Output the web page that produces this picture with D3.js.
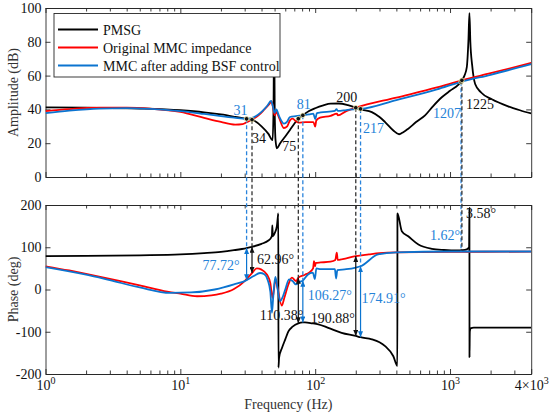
<!DOCTYPE html>
<html>
<head>
<meta charset="utf-8">
<script src="https://cdnjs.cloudflare.com/ajax/libs/d3/7.8.5/d3.min.js"></script>
<style>
  body { margin: 0; background: #fff; }
  svg { display: block; }
  svg text { font-family: "Times New Roman", "Liberation Serif", "DejaVu Serif", serif; }
</style>
</head>
<body>
<script>
// values, [frequency (Hz), value]
var pmsgAmp = [[1,41.2],[2,41],[5,40.5],[10,39.5],[15,38.3],[20,37],[25.5,35.6],[31,34.4],[34,33.9],
  [40,30],[45,25.5],[48.3,21.8],[49.1,40],[49.6,92],[50.1,40],[50.8,22],[52,17],[55,20],[60,24],
  [65,27.8],[70,31.5],[75,34.5],[81,36.5],[90,39],[100,40.7],[115,42.4],[130,43.4],[150,43.5],
  [175,42.5],[200,41],[217,40],[263,38.4],[300,35.5],[330,32.5],[380,27.5],[419,25.3],[450,26.5],
  [490,28.6],[560,32.5],[653,36.5],[750,42],[869,47.2],[1000,51],[1150,54.5],[1207,56.3],
  [1225,57.2],[1280,60],[1332,65],[1369,80.6],[1393,97],[1415,80],[1460,66],[1536,55],[1700,50],
  [2042,46],[2697,41.8],[3300,39.5],[4000,37.6]];
var mmcAmp = [[1,39],[1.5,40.2],[2.5,41],[4,41],[6,40.4],[10,38.5],[15,35],[20,32.6],[25.5,31],
  [29,31.3],[31,32.4],[34,33.9],[38,36.5],[42,40],[45.5,43],[47.5,44.7],[48.7,41],[50,36.5],
  [51.5,38.5],[54,35],[58.5,29],[62,30],[65,33.5],[68,34.5],[72,33],[75.4,32.2],[85,32.5],
  [97,32.5],[100,29.8],[102,33.5],[108.7,35.1],[130,36.2],[145,37.5],[147,36.5],[170,39],
  [200,41],[400,47],[800,53],[1225,57.2],[2000,61.4],[4000,67.5]];
var bsfAmp = [[1,37.8],[1.5,39.3],[2.5,40.5],[4,40.7],[6,40.3],[10,39],[15,37.3],[20,36],[25,35.1],
  [31,34.4],[35,35.3],[40,38.5],[44,42],[47.1,45],[48.5,42],[50,38],[51.5,40],[54,36],[58.8,31.6],
  [62,32.8],[65,35.5],[72,36],[81,36.5],[90,37],[97,37.5],[100,34.2],[103,37.8],[110,38.2],
  [140,39.2],[144,40.2],[147,39.1],[170,39.6],[200,40.2],[217,40.3],[400,45.5],[800,51.8],
  [1207,56.3],[2000,60.5],[4000,66.8]];

var pmsgPh = [[1,79],[2,79.5],[5,81],[10,83],[15,86],[20,89],[25,93],[31,98],[34,101],[40,108],
  [45,116],[47,122],[47.8,128],[48.1,152],[48.5,126],[50,133],[52,150],[53,175],[53.3,180],
  [53.4,-185],[54,-161],[56.8,-138],[60,-118],[63.3,-99],[68,-88],[75,-80],[81,-78],[84,-78],
  [95,-80],[105.6,-82.5],[125,-90.7],[157,-102.6],[200,-110],[217,-113],[263,-118],[300,-125],
  [330,-134],[380,-158],[407,-181],[407.5,180],[439,138],[490,126],[583,106.5],[733,96.3],
  [900,93.5],[1154,92.3],[1225,93],[1330,95],[1385,100],[1393,193],[1395,-160],[1402,-100],
  [1420,-92],[1500,-90],[4000,-90]];
var mmcPh = [[1,55],[1.5,45],[2,37],[3,25],[5,10],[8,-5],[10,-10],[13.3,-16],[17,-14],[20,-10],
  [25,1],[30,20],[34,39],[36.9,50],[40,47],[44,35],[46.5,15],[48.3,-20],[49.5,0],[50.8,25],
  [52.5,5],[56.5,-38],[59,-20],[63,10],[67.2,28],[72.2,20],[75,28],[84,35],[90,40],[96.5,50],
  [98,67],[99.8,55],[101,63],[110,64],[130,66],[141,70],[144.6,87],[147,70],[160,72],[200,79],
  [250,83],[300,86],[400,88],[1000,89],[4000,89.5]];
var bsfPh = [[1,53],[2,35],[3,22],[5,5],[8.4,-8],[12,-7],[18,0],[25,12],[31,22],[35,32],[39,39],
  [42,36],[44.5,22],[46.5,-5],[47.8,-55],[48.8,-20],[50.6,30],[52,12],[54.9,-28],[57,-20],
  [60,0],[64,24],[68,20],[72,12],[77,18],[81,21],[88,35],[96,40],[99.5,25],[102,50],[110,48],
  [140,48],[143,26],[146,46],[170,48],[200,52],[217,55],[293,83],[400,88],[1000,90],[4000,90]];

var seriesNames = ["PMSG", "Original MMC impedance", "MMC after adding BSF control"];
var seriesColors = ["#000000", "#ff0000", "#0b74d0"];

var ampTicks = [0, 20, 40, 60, 80, 100];
var phTicks = [-200, -100, 0, 100, 200];
var freqMajor = [1, 10, 100, 1000, 4000];

// marked crossing frequencies
var markF = [31, 34, 75, 81, 200, 217, 1207, 1225];
var markAmp = [34.4, 33.9, 34.5, 36.5, 41, 40.3, 56.3, 57.2];
var markBlue = [true, false, false, true, false, true, true, false];
var markPhTop = [98, 101, 28, 21, 79, 55, 90, 93];
var markPhEnd = [22, 39, -80, -78, -110, -113, null, null];
var markLabel = ["31", "34", "75", "81", "200", "217", "1207", "1225"];
var markLabelDx = [-6, 7, -9, 1, -9, 13, -14, 18];
var markLabelDy = [-4, 23, 32, -6, -6, 24, 36, 29];

var phaseLabel = ["77.72°", "62.96°", "110.38°", "106.27°", "190.88°", "174.91°", "1.62°", "3.58°"];
var phaseLabelDeg = [46, 60, -72, -25, -79, -32, 117, 169];
var phaseLabelDx = [-7, 5, 5, 5, -1, 1, -1, 4];
var phaseLabelAnchor = ["end", "start", "end", "start", "end", "start", "end", "start"];

function init () {
  'use strict';
  var w = 550, h = 418;
  var left = 45.5, right = 531.2;
  var serif = '"Times New Roman", "Liberation Serif", "DejaVu Serif", serif';
  var blueText = "#2582d8";
  var axisColor = "#262626";

  var x = d3.scaleLog().domain([1, 4000]).range([left, right]);
  var yAmp = d3.scaleLinear().domain([0, 100]).range([177, 8]);
  var yPh = d3.scaleLinear().domain([-200, 200]).range([374, 205]);

  var freqMinor = [];
  [1, 10, 100, 1000].forEach(function(p) {
    for (var k = 2; k <= 9; k++) {
      if (k * p < 4000) freqMinor.push(k * p);
    }
  });

  var svg = d3.select("body").append("svg")
    .attr("width", w)
    .attr("height", h)
    .attr("font-family", serif);

  var defs = svg.append("defs");
  defs.append("clipPath").attr("id", "clipAmp").append("rect")
    .attr("x", left).attr("y", yAmp(100))
    .attr("width", right - left).attr("height", yAmp(0) - yAmp(100));
  defs.append("clipPath").attr("id", "clipPh").append("rect")
    .attr("x", left).attr("y", yPh(200))
    .attr("width", right - left).attr("height", yPh(-200) - yPh(200));

  [["ahBlack", "#111"], ["ahBlue", seriesColors[2]]].forEach(function(m) {
    defs.append("marker")
      .attr("id", m[0])
      .attr("viewBox", "0 0 6 5")
      .attr("refX", 6).attr("refY", 2.5)
      .attr("markerWidth", 6).attr("markerHeight", 5)
      .attr("markerUnits", "userSpaceOnUse")
      .attr("orient", "auto-start-reverse")
      .append("path")
      .attr("d", "M0,0 L6,2.5 L0,5 Z")
      .attr("fill", m[1]);
  });

  function frame(y, ticks, labelX) {
    var g = svg.append("g");
    var bottom = y.range()[0], top = y.range()[1];

    g.append("g")
      .attr("transform", "translate(" + left + ",0)")
      .call(d3.axisLeft(y).tickValues(ticks).tickSize(-5).tickSizeOuter(0)
        .tickPadding(4).tickFormat(function(d) { return String(d); }));
    g.append("g")
      .attr("transform", "translate(" + right + ",0)")
      .call(d3.axisRight(y).tickValues(ticks).tickSize(-5).tickSizeOuter(0).tickFormat(""));

    var bx = g.append("g")
      .attr("transform", "translate(0," + bottom + ")")
      .call(d3.axisBottom(x).tickValues(freqMajor).tickSize(-5).tickSizeOuter(0)
        .tickPadding(6).tickFormat(function() { return ""; }));
    g.append("g")
      .attr("transform", "translate(0," + bottom + ")")
      .call(d3.axisBottom(x).tickValues(freqMinor).tickSize(-3.5).tickSizeOuter(0).tickFormat(""));
    g.append("g")
      .attr("transform", "translate(0," + top + ")")
      .call(d3.axisTop(x).tickValues(freqMajor).tickSize(-5).tickSizeOuter(0).tickFormat(""));
    g.append("g")
      .attr("transform", "translate(0," + top + ")")
      .call(d3.axisTop(x).tickValues(freqMinor).tickSize(-3.5).tickSizeOuter(0).tickFormat(""));

    g.selectAll(".domain, .tick line")
      .attr("stroke", axisColor)
      .attr("stroke-width", 0.9);
    g.selectAll("g")
      .attr("font-family", serif)
      .attr("font-size", 14);
    g.selectAll("text").attr("fill", "#111");

    if (labelX) {
      bx.selectAll(".tick text").each(function(d) {
        var e = Math.floor(Math.log10(d) + 1e-9);
        var m = Math.round(d / Math.pow(10, e));
        var t = d3.select(this);
        t.append("tspan").text(m === 1 ? "10" : m + "×10");
        t.append("tspan").attr("dy", -6).attr("font-size", 10).text(e);
      });
    }
  }

  frame(yAmp, ampTicks, false);
  frame(yPh, phTicks, true);

  // axis titles
  svg.append("text")
    .attr("transform", "translate(18," + ((yAmp(0) + yAmp(100)) / 2) + ") rotate(-90)")
    .attr("text-anchor", "middle")
    .attr("font-size", 14)
    .attr("fill", "#333")
    .text("Amplitude (dB)");
  svg.append("text")
    .attr("transform", "translate(18," + ((yPh(-200) + yPh(200)) / 2) + ") rotate(-90)")
    .attr("text-anchor", "middle")
    .attr("font-size", 14)
    .attr("fill", "#333")
    .text("Phase (deg)");
  svg.append("text")
    .attr("x", (left + right) / 2)
    .attr("y", 409)
    .attr("text-anchor", "middle")
    .attr("font-size", 14)
    .attr("fill", "#333")
    .text("Frequency (Hz)");

  // curves
  var ampLine = d3.line()
    .x(function(d) { return x(d[0]); })
    .y(function(d) { return yAmp(d[1]); })
    .curve(d3.curveMonotoneX);
  var phLine = d3.line()
    .x(function(d) { return x(d[0]); })
    .y(function(d) { return yPh(d[1]); })
    .curve(d3.curveMonotoneX);

  var ampG = svg.append("g").attr("clip-path", "url(#clipAmp)");
  var phG = svg.append("g").attr("clip-path", "url(#clipPh)");
  [pmsgAmp, mmcAmp, bsfAmp].forEach(function(s, i) {
    ampG.append("path")
      .attr("d", ampLine(s))
      .attr("fill", "none")
      .attr("stroke", seriesColors[i])
      .attr("stroke-width", 1.8)
      .attr("stroke-linejoin", "round");
  });
  [pmsgPh, mmcPh, bsfPh].forEach(function(s, i) {
    phG.append("path")
      .attr("d", phLine(s))
      .attr("fill", "none")
      .attr("stroke", seriesColors[i])
      .attr("stroke-width", 1.8)
      .attr("stroke-linejoin", "round");
  });

  // dashed drop lines, arrows, points and labels
  var ann = svg.append("g");
  markF.forEach(function(f, i) {
    var cx = x(f);
    var col = markBlue[i] ? "#2a84dc" : "#333";
    ann.append("line")
      .attr("x1", cx).attr("x2", cx)
      .attr("y1", yAmp(markAmp[i])).attr("y2", yPh(markPhTop[i]))
      .attr("stroke", col)
      .attr("stroke-width", 1.3)
      .attr("stroke-dasharray", "4,2.5");
    if (markPhEnd[i] !== null) {
      var mk = markBlue[i] ? "url(#ahBlue)" : "url(#ahBlack)";
      ann.append("line")
        .attr("x1", cx).attr("x2", cx)
        .attr("y1", yPh(markPhTop[i])).attr("y2", yPh(markPhEnd[i]))
        .attr("stroke", markBlue[i] ? seriesColors[2] : "#111")
        .attr("stroke-width", 1.2)
        .attr("marker-start", mk)
        .attr("marker-end", mk);
    }
  });
  markF.forEach(function(f, i) {
    ann.append("circle")
      .attr("cx", x(f)).attr("cy", yAmp(markAmp[i]))
      .attr("r", 2.3)
      .attr("fill", "#111")
      .attr("stroke", "#f6f0b4")
      .attr("stroke-width", 0.8);
    ann.append("text")
      .attr("x", x(f) + markLabelDx[i])
      .attr("y", yAmp(markAmp[i]) + markLabelDy[i])
      .attr("text-anchor", "middle")
      .attr("font-size", 14)
      .attr("fill", markBlue[i] ? blueText : "#111")
      .text(markLabel[i]);
    ann.append("text")
      .attr("x", x(f) + phaseLabelDx[i])
      .attr("y", yPh(phaseLabelDeg[i]))
      .attr("text-anchor", phaseLabelAnchor[i])
      .attr("font-size", 14)
      .attr("fill", markBlue[i] ? blueText : "#111")
      .text(phaseLabel[i]);
  });

  // legend
  var lg = svg.append("g");
  lg.append("rect")
    .attr("x", 54).attr("y", 13.5)
    .attr("width", 226).attr("height", 63.5)
    .attr("fill", "#fff")
    .attr("stroke", axisColor)
    .attr("stroke-width", 0.9);
  seriesNames.forEach(function(name, i) {
    var ly = 29.5 + i * 18;
    lg.append("line")
      .attr("x1", 58).attr("x2", 98)
      .attr("y1", ly).attr("y2", ly)
      .attr("stroke", seriesColors[i])
      .attr("stroke-width", 1.8);
    lg.append("text")
      .attr("x", 103).attr("y", ly + 5)
      .attr("font-size", 14)
      .attr("fill", "#111")
      .text(name);
  });
}

window.onload = init;
</script>
</body>
</html>
